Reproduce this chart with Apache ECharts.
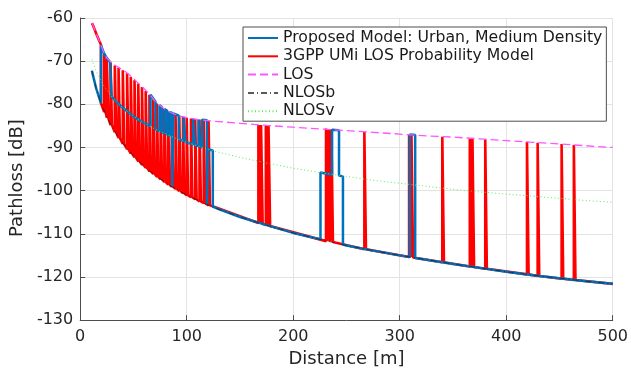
<!DOCTYPE html>
<html>
<head>
<meta charset="utf-8">
<script src="https://cdn.jsdelivr.net/npm/echarts@6.0.0/dist/echarts.min.js"></script>
<style>
  html, body { margin: 0; padding: 0; background: #fff; }
  #lineChart { width: 631px; height: 373px; }
</style>
</head>
<body>
<div id="lineChart"></div>
<script>
// distances [m] where the reference curves were read
const dist = [11, 12, 15, 18, 20, 22, 25, 30, 35, 40, 45, 50, 55, 60, 65, 70, 75, 80, 85, 90, 95, 100, 110, 120, 130, 150, 175, 200, 225, 250, 275, 300, 325, 350, 375, 400, 425, 450, 475, 500]
const losVals = [-61.2, -61.7, -63.6, -65.4, -66.6, -68.0, -69.3, -70.5, -71.3, -72.0, -72.9, -74.0, -75.2, -76.4, -77.6, -79.2, -80.3, -81.2, -81.9, -82.4, -82.8, -83.1, -83.5, -83.8, -84.0, -84.4, -84.9, -85.3, -85.7, -86.1, -86.5, -86.9, -87.3, -87.6, -88.0, -88.4, -88.8, -89.2, -89.6, -90.0]
const nlosbVals = [-72.2, -73.3, -76.3, -78.6, -80.0, -81.2, -82.9, -85.3, -87.3, -89.0, -90.6, -91.9, -93.2, -94.3, -95.4, -96.3, -97.2, -98.1, -98.9, -99.6, -100.3, -101.0, -102.2, -103.3, -104.3, -106.1, -108.0, -109.8, -111.3, -112.7, -113.9, -115.0, -116.0, -117.0, -117.9, -118.8, -119.6, -120.3, -121.0, -121.6]
const nlosvVals = [-69.6, -70.4, -72.3, -73.9, -74.8, -75.6, -76.7, -78.3, -79.7, -80.8, -81.8, -82.8, -83.6, -84.3, -85.0, -85.7, -86.3, -86.8, -87.4, -87.9, -88.3, -88.8, -89.6, -90.4, -91.1, -92.3, -93.6, -94.8, -95.8, -96.7, -97.6, -98.3, -99.0, -99.7, -100.3, -100.8, -101.3, -101.8, -102.3, -102.7]

// proposed model: [distance, pathloss] vertices
const proposedPath = [
  [11, -72.2], [12, -73.3], [15, -76.3], [18, -78.6], [19.5, -79.7],
  [19.5, -66.3], [20, -66.6], [22, -68.0], [25, -69.3], [28, -70.2], [29.5, -70.4],
  [29.5, -78.2], [35, -79.7], [40, -80.8], [45, -81.8], [50, -82.8], [55, -83.6], [60, -84.3], [66, -85.1],
  [66, -77.8], [70.7, -79.4], [70.7, -85.8], [74.5, -86.2],
  [74.5, -80.2], [76.6, -80.6], [76.6, -86.5], [79.2, -86.8],
  [79.2, -81.1], [81.7, -81.5], [81.7, -87.0], [84.1, -87.3],
  [84.1, -81.8], [86.3, -82.0], [86.3, -99.1], [87.5, -99.3],
  [87.5, -82.1], [92.5, -82.6], [92.5, -88.1], [97.2, -88.5],
  [97.2, -82.9], [98.8, -83.0], [98.8, -88.7], [106, -89.3],
  [106, -83.3], [107.5, -83.4], [107.5, -89.4], [111, -89.7],
  [111, -83.5], [112.5, -83.55], [112.5, -89.8], [114.5, -90.0],
  [114.5, -83.6], [119, -83.7], [119, -103.2], [120, -103.3],
  [120, -90.4], [124.5, -90.7], [124.5, -103.7],
  [130, -104.3], [150, -106.1], [175, -108.0], [200, -109.8], [225.6, -111.3],
  [225.6, -95.8], [236.5, -96.3], [236.5, -85.9], [243, -86.0],
  [243, -96.5], [246.7, -96.7], [246.7, -112.5],
  [250, -112.7], [275, -113.9], [300, -115.0], [309.5, -115.4],
  [309.5, -87.0], [314.5, -87.1], [314.5, -115.6],
  [325, -116.0], [350, -117.0], [375, -117.9], [400, -118.8], [425, -119.6], [450, -120.3], [475, -121.0], [500, -121.6]
]

// 3GPP model: LOS start, then LOS spikes [from, to, LOS value, NLOS value]
const gppHead = [[11, -61.2], [12, -61.7], [15, -63.6], [18, -65.4], [19.5, -66.2], [19.5, -79.7]]
const gppSpikes = [
  [22.5, 23.8, -68.4, -81.8], [25, 26.3, -69.4, -83.1], [28.5, 29.8, -70.3, -84.8],
  [32.5, 33.8, -71.0, -86.5], [36, 37.3, -71.5, -87.8], [40, 41.3, -72.1, -89.2],
  [44, 45.3, -72.8, -90.4], [47.5, 48.8, -73.6, -91.4], [51, 52.3, -74.4, -92.3],
  [54.5, 55.8, -75.2, -93.2], [58, 59.3, -76.0, -94.0], [61.5, 62.8, -76.9, -94.7],
  [65, 66.3, -77.8, -95.5], [68.5, 69.8, -78.9, -96.1], [72, 73.3, -79.8, -96.8],
  [75.5, 76.8, -80.5, -97.4], [79, 80.3, -81.1, -98.0], [82.5, 83.8, -81.6, -98.6],
  [86, 87.3, -82.05, -99.1], [89.5, 90.8, -82.4, -99.6], [93, 94.3, -82.7, -100.1],
  [96.5, 97.8, -82.9, -100.6], [100, 101.3, -83.1, -101.1], [104, 105.3, -83.3, -101.5],
  [108, 109.3, -83.45, -102.0], [112, 113.3, -83.55, -102.5], [116, 117.3, -83.7, -102.9],
  [120.5, 121.8, -83.8, -103.4],
  [167.3, 168.8, -84.8, -107.5], [169.8, 171.3, -84.8, -107.7],
  [174.3, 175.8, -84.9, -108.0], [176.8, 178.3, -84.9, -108.2],
  [230.8, 232.3, -85.6, -111.7], [233.3, 234.8, -85.7, -111.8], [235.8, 237.3, -85.7, -111.9],
  [266.8, 268.3, -86.4, -113.6], [308.8, 310.3, -87.0, -115.4], [311, 312.5, -87.0, -115.5],
  [340, 341.5, -87.5, -116.6], [365.8, 367.3, -87.9, -117.6], [368.3, 369.8, -87.9, -117.7],
  [380.3, 381.8, -88.1, -118.1], [419.5, 421, -88.7, -119.4], [429.5, 431, -88.9, -119.8],
  [452, 453.5, -89.2, -120.4], [463.5, 465, -89.4, -120.7]
]
const gppTail = [[500, -121.6]]

const xTicks = [0, 100, 200, 300, 400, 500]
const yTicks = [-130, -120, -110, -100, -90, -80, -70, -60]

function curve (vals) {
  return dist.map((d, i) => [d, vals[i]])
}

function gppPath () {
  let out = gppHead.slice()
  gppSpikes.forEach(s => {
    out.push([s[0], s[3]], [s[0], s[2]], [s[1], s[2]], [s[1], s[3]])
  })
  return out.concat(gppTail)
}

const font = 'DejaVu Sans'
let myChart = echarts.init(document.getElementById('lineChart'))
myChart.setOption({
  animation: false,
  backgroundColor: '#fff',
  textStyle: { fontFamily: font },
  grid: { left: 79, right: 17, top: 18, bottom: 48 },
  legend: {
    data: ['Proposed Model: Urban, Medium Density', '3GPP UMi LOS Probability Model', 'LOS', 'NLOSb', 'NLOSv'],
    orient: 'vertical',
    left: 243,
    top: 27,
    padding: [2, 4, 1, 4],
    itemGap: 0.3,
    itemWidth: 30,
    itemHeight: 10,
    itemStyle: { opacity: 0 },
    borderColor: '#4d4d4d',
    borderWidth: 1,
    backgroundColor: '#fff',
    textStyle: { fontFamily: font, fontSize: 15.7, lineHeight: 18, color: '#1a1a1a' }
  },
  xAxis: {
    type: 'value',
    min: xTicks[0],
    max: xTicks[xTicks.length - 1],
    interval: 100,
    name: 'Distance [m]',
    nameLocation: 'middle',
    nameGap: 26,
    nameTextStyle: { fontFamily: font, fontSize: 18, color: '#262626' },
    axisLine: { lineStyle: { color: '#4d4d4d', width: 1 } },
    axisTick: { inside: true, length: 5, lineStyle: { color: '#4d4d4d' } },
    axisLabel: { margin: 9, fontFamily: font, fontSize: 16, color: '#262626' },
    splitLine: { show: true, lineStyle: { color: '#e3e3e3' } }
  },
  yAxis: {
    type: 'value',
    min: yTicks[0],
    max: yTicks[yTicks.length - 1],
    interval: 10,
    name: 'Pathloss [dB]',
    nameLocation: 'middle',
    nameGap: 48,
    nameRotate: 90,
    nameTextStyle: { fontFamily: font, fontSize: 18, color: '#262626', padding: [0, 18, 0, 0] },
    axisLine: { show: true, lineStyle: { color: '#4d4d4d', width: 1 } },
    axisTick: { show: true, inside: true, length: 5, lineStyle: { color: '#4d4d4d' } },
    axisLabel: { margin: 7, fontFamily: font, fontSize: 16, color: '#262626' },
    splitLine: { show: true, lineStyle: { color: '#e3e3e3' } }
  },
  series: [
    {
      name: '3GPP UMi LOS Probability Model',
      type: 'line',
      symbol: 'none',
      color: '#ff0000',
      lineStyle: { width: 2.6, color: '#ff0000' },
      data: gppPath()
    },
    {
      name: 'Proposed Model: Urban, Medium Density',
      type: 'line',
      symbol: 'none',
      color: '#0072bd',
      lineStyle: { width: 2.5, color: '#0072bd' },
      data: proposedPath
    },
    {
      name: 'LOS',
      type: 'line',
      symbol: 'none',
      color: '#ff55ff',
      lineStyle: { width: 1.3, color: '#ff55ff', type: [8, 4] },
      data: curve(losVals)
    },
    {
      name: 'NLOSb',
      type: 'line',
      symbol: 'none',
      color: '#222',
      lineStyle: { width: 1, color: '#222', opacity: 0.75, type: [6, 3, 1, 3] },
      data: curve(nlosbVals)
    },
    {
      name: 'NLOSv',
      type: 'line',
      symbol: 'none',
      color: '#55ee55',
      lineStyle: { width: 1, color: '#55ee55', type: [1, 2.5] },
      data: curve(nlosvVals)
    }
  ]
})
</script>
</body>
</html>
